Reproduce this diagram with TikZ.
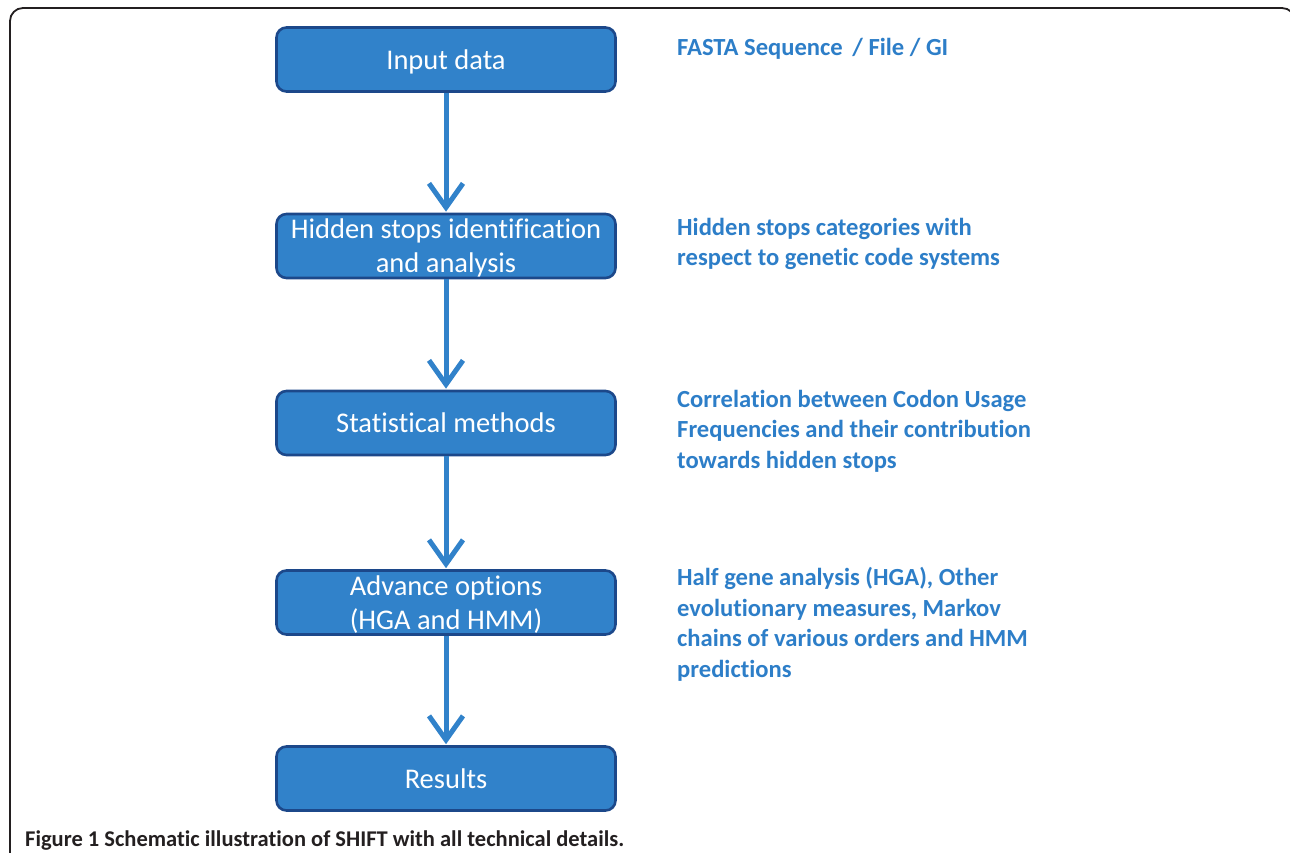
\documentclass[tikz,border=0pt]{standalone}
\usepackage{fontspec}
\setmainfont{Carlito}[Ligatures=NoCommon]
\usetikzlibrary{arrows.meta}
\definecolor{boxblue}{RGB}{49,130,202}
\definecolor{boxedge}{RGB}{28,72,138}
\definecolor{noteblue}{RGB}{45,126,200}
\definecolor{capgray}{RGB}{35,31,32}
\tikzset{
  stepbox/.style={draw=boxedge, fill=boxblue, line width=2.6pt, rounded corners=10pt,
    minimum width=339pt, minimum height=64pt, text=white, align=center,
    font=\fontsize{28.5}{34}\selectfont, inner sep=0pt, text depth=0pt},
  flow/.style={draw=boxblue, line width=5pt,
    -{Straight Barb[length=24pt,width=34pt,line width=5pt]}, shorten >=1pt},
  note/.style={anchor=west, align=left, text=noteblue,
    font=\bfseries\fontsize{24.6}{30.5}\selectfont, inner sep=0pt},
}
\begin{document}
\begin{tikzpicture}[x=1pt,y=-1pt]
\useasboundingbox (0,0) rectangle (1290,853);
% panel frame
\draw[capgray, line width=1.8pt, rounded corners=13pt] (10,870) -- (10,8) -- (1295,8) -- (1295,870);

% process boxes
\node[stepbox] (in)  at (446,59.5)  {Input data};
\node[stepbox] (hid) at (446,246)   {Hidden stops identification\\and analysis};
\node[stepbox] (st)  at (446,423)   {Statistical methods};
\node[stepbox] (adv) at (446,602.5) {Advance options\\(HGA and HMM)};
\node[stepbox] (res) at (446,778.5) {Results};

% connectors
\draw[flow] (in.south)  -- (hid.north);
\draw[flow] (hid.south) -- (st.north);
\draw[flow] (st.south)  -- (adv.north);
\draw[flow] (adv.south) -- (res.north);

% side notes
\node[note] (n1) at (677,49)    {FASTA Sequence \,/ File / GI};
\node[note] (n2) at (677,244)   {Hidden stops categories with\\respect to genetic code systems};
\node[note] (n3) at (677,431)   {Correlation between Codon Usage\\Frequencies and their contribution\\towards hidden stops};
\node[note] (n4) at (677,624.5) {Half gene analysis (HGA), Other\\evolutionary measures, Markov\\chains of various orders and HMM\\predictions};

% caption
\node[anchor=west, inner sep=0pt, text=capgray, font=\bfseries\fontsize{22.5}{26}\selectfont] (cap) at (25,841)
  {Figure 1 Schematic illustration of SHIFT with all technical details.};
\end{tikzpicture}
\end{document}
